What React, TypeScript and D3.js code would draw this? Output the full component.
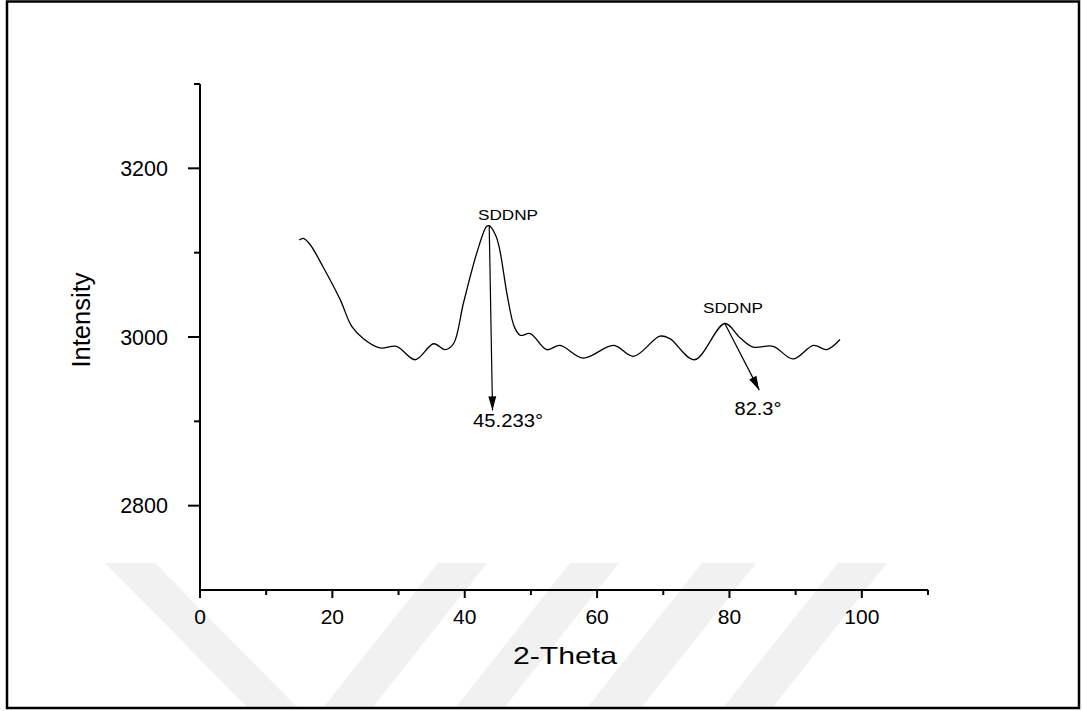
import React from 'react';
import * as d3 from 'd3';

// ---- data ----
const twoTheta = [15.0, 15.6, 16.6, 18.6, 21.2, 22.9, 24.7, 27.2, 29.7, 32.5, 35.3, 37.0, 38.3, 39.8, 41.8, 43.3, 43.7, 44.7, 45.3, 46.5, 47.5, 48.4, 49.9, 52.4, 54.4, 57.9, 62.5, 65.5, 69.5, 71.0, 74.7, 79.3, 81.6, 83.6, 86.6, 89.6, 92.7, 94.7, 96.7];
const intensity = [3115, 3117, 3110, 3083, 3044, 3013, 2998, 2987, 2989, 2973, 2992, 2985, 2992, 3040, 3099, 3131, 3132, 3120, 3103, 3046, 3012, 3002, 3004, 2985, 2990, 2975, 2990, 2977, 3001, 2998, 2973, 3016, 2999, 2988, 2989, 2974, 2990, 2985, 2997];

const xMajorTicks = [0, 20, 40, 60, 80, 100];
const xMinorTicks = [10, 30, 50, 70, 90, 110];
const yMajorTicks = [2800, 3000, 3200];
const yMinorTicks = [2900, 3100, 3300];

const annLabels = ['SDDNP', 'SDDNP'];
const annValues = ['45.233°', '82.3°'];
const annPeakX = [43.7, 79.3];
const annPeakY = [3132, 3016];
const annTipX = [44.2, 84.5];
const annTipY = [2913, 2937];

const FONT = "'Liberation Sans', Arial, sans-serif";

export default function App() {
  const W = 1082, H = 711;
  const x = d3.scaleLinear().domain([0, 110]).range([200, 928]);
  const y = d3.scaleLinear().domain([2700, 3300]).range([590, 84]);

  const pts: [number, number][] = twoTheta.map((t, i) => [t, intensity[i]]);
  const line = d3.line<[number, number]>()
    .x(d => x(d[0]))
    .y(d => y(d[1]))
    .curve(d3.curveCatmullRom.alpha(0.5));

  const stripes = [
    [[105, 563], [155, 563], [298, 708], [248, 708]],
    [[438, 563], [487, 563], [372, 708], [323, 708]],
    [[570, 563], [619, 563], [504, 708], [455, 708]],
    [[702, 563], [756, 563], [641, 708], [587, 708]],
    [[838, 563], [887, 563], [772, 708], [723, 708]],
  ];

  const arrowHead = (x1: number, y1: number, x2: number, y2: number) => {
    const dx = x2 - x1, dy = y2 - y1;
    const len = Math.hypot(dx, dy);
    const ux = dx / len, uy = dy / len;
    const L = 14, hw = 4;
    const bx = x2 - ux * L, by = y2 - uy * L;
    return `${x2},${y2} ${bx - uy * hw},${by + ux * hw} ${bx + uy * hw},${by - ux * hw}`;
  };

  return (
    <svg width={W} height={H} style={{ position: 'absolute', left: 0, top: 0, display: 'block' }}>
      <rect x={0} y={0} width={W} height={H} fill="#fff" />
      {stripes.map((s, i) => (
        <polygon key={i} points={s.map(p => p.join(',')).join(' ')} fill="#f1f1f1" />
      ))}
      <rect x={7} y={1.5} width={1072} height={706.5} fill="none" stroke="#000" strokeWidth={2.5} />

      {/* axes */}
      <line x1={x(0)} x2={x(110)} y1={y(2700)} y2={y(2700)} stroke="#000" strokeWidth={2} />
      <line x1={x(0)} x2={x(0)} y1={y(2700) + 1} y2={y(3300)} stroke="#000" strokeWidth={2} />
      {xMajorTicks.map(t => (
        <g key={'xM' + t}>
          <line x1={x(t)} x2={x(t)} y1={y(2700)} y2={y(2700) + 8} stroke="#000" strokeWidth={2} />
          <text x={x(t)} y={624} textAnchor="middle" fontFamily={FONT} fontSize={21}>{t}</text>
        </g>
      ))}
      {xMinorTicks.map(t => (
        <line key={'xm' + t} x1={x(t)} x2={x(t)} y1={y(2700)} y2={y(2700) + 5} stroke="#000" strokeWidth={2} />
      ))}
      {yMajorTicks.map(t => (
        <g key={'yM' + t}>
          <line x1={x(0)} x2={x(0) - 12} y1={y(t)} y2={y(t)} stroke="#000" strokeWidth={2} />
          <text x={168} y={y(t) + 7.5} textAnchor="end" fontFamily={FONT} fontSize={21.5}>{t}</text>
        </g>
      ))}
      {yMinorTicks.map(t => (
        <line key={'ym' + t} x1={x(0)} x2={x(0) - 6} y1={y(t)} y2={y(t)} stroke="#000" strokeWidth={2} />
      ))}

      {/* axis titles */}
      <text x={565} y={664} textAnchor="middle" fontFamily={FONT} fontSize={24} textLength={104} lengthAdjust="spacingAndGlyphs">2-Theta</text>
      <text transform="translate(90,320) rotate(-90)" textAnchor="middle" fontFamily={FONT} fontSize={25.5}>Intensity</text>

      {/* curve */}
      <path d={line(pts) || ''} fill="none" stroke="#000" strokeWidth={1.3} />

      {/* annotations */}
      {annLabels.map((lab, i) => {
        const px = x(annPeakX[i]), py = y(annPeakY[i]);
        const tx = x(annTipX[i]), ty = y(annTipY[i]);
        return (
          <g key={'ann' + i}>
            <line x1={px} y1={py} x2={tx} y2={ty} stroke="#000" strokeWidth={1.2} />
            <polygon points={arrowHead(px, py, tx, ty)} fill="#000" />
            <text x={i === 0 ? 508 : 733} y={i === 0 ? 220 : 313} textAnchor="middle" fontFamily={FONT} fontSize={14} textLength={60} lengthAdjust="spacingAndGlyphs">{lab}</text>
            <text x={i === 0 ? 508 : 758} y={i === 0 ? 427 : 415} textAnchor="middle" fontFamily={FONT} fontSize={18} textLength={i === 0 ? 70 : 47} lengthAdjust="spacingAndGlyphs">{annValues[i]}</text>
          </g>
        );
      })}
    </svg>
  );
}
